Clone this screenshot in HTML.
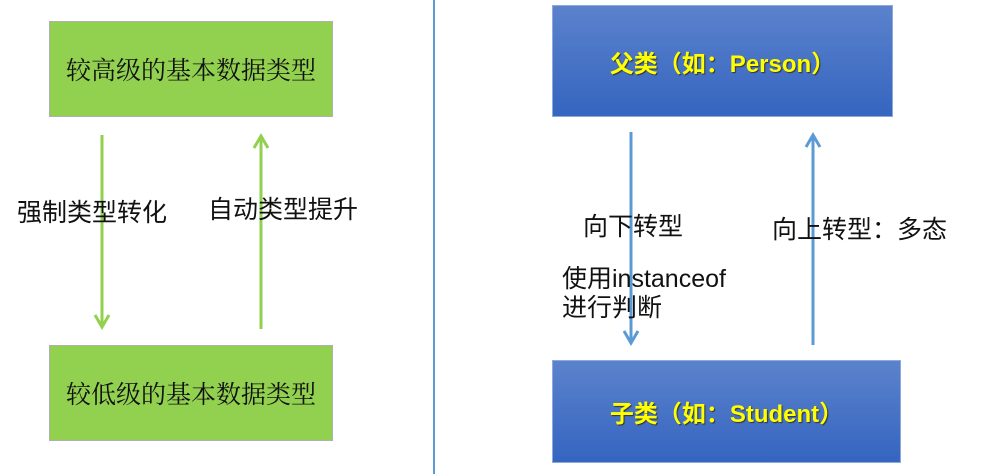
<!DOCTYPE html>
<html><head><meta charset="utf-8"><style>
body{margin:0;width:999px;height:474px;background:#fff;position:relative;overflow:hidden;font-family:"Liberation Sans","Noto Sans CJK SC",sans-serif}
.g{position:absolute;background:#92d050;border:1px solid #b0b0b0;box-sizing:border-box;display:flex;align-items:center;justify-content:center;font-size:25px;color:#111;font-family:"Liberation Serif","Noto Serif CJK SC",serif}
.b{position:absolute;background:linear-gradient(#5b82cc,#3565c0);border:1px solid #8eaadb;box-sizing:border-box;display:flex;align-items:center;justify-content:center;font-size:24px;font-weight:bold;color:#ffff00;text-shadow:1px 1px 1px #333}
.t{position:absolute;font-size:25px;color:#111;white-space:nowrap;line-height:30px}
</style></head><body>
<div class="g" style="left:49px;top:21px;width:284px;height:96px">较高级的基本数据类型</div>
<div class="g" style="left:49px;top:345px;width:284px;height:96px">较低级的基本数据类型</div>
<div style="position:absolute;left:433px;top:0;width:2px;height:474px;background:#5b9bd5"></div>
<div class="b" style="left:552px;top:5px;width:341px;height:112px">父类（如：Person）</div>
<div class="b" style="left:552px;top:360px;width:349px;height:103px">子类（如：Student）</div>
<svg width="999" height="474" style="position:absolute;left:0;top:0">
<g stroke="#92d050" stroke-width="3" fill="none">
<line x1="102" y1="135" x2="102" y2="327"/><polyline points="95,315 102,327 109,315"/>
<line x1="261" y1="136" x2="261" y2="329"/><polyline points="254,148 261,136 268,148"/>
</g>
<g stroke="#5b9bd5" stroke-width="3" fill="none">
<line x1="631" y1="132" x2="631" y2="343"/><polyline points="624,331 631,343 638,331"/>
<line x1="813" y1="135" x2="813" y2="345"/><polyline points="806,147 813,135 820,147"/>
</g>
</svg>
<div class="t" style="left:17px;top:198px">强制类型转化</div>
<div class="t" style="left:208px;top:195px">自动类型提升</div>
<div class="t" style="left:583px;top:212px">向下转型</div>
<div class="t" style="left:772px;top:215px">向上转型：多态</div>
<div class="t" style="left:562px;top:264px">使用instanceof</div>
<div class="t" style="left:562px;top:293px">进行判断</div>
</body></html>
